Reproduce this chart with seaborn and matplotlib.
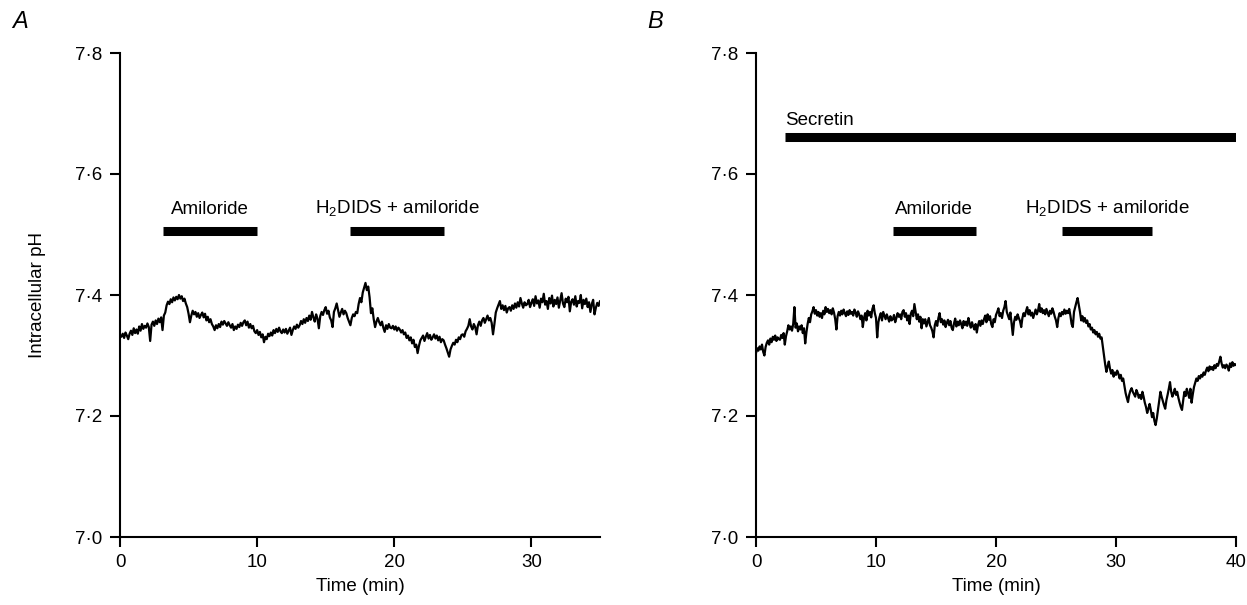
import numpy as np
import matplotlib
matplotlib.use("Agg")
import matplotlib.pyplot as plt
from matplotlib.ticker import FuncFormatter, FixedLocator
import seaborn as sns

# ---- data -------------------------------------------------------------
SAMPLE_INTERVAL_MIN = 0.1  # recording sampled every 6 s

# Panel A: intracellular pH, unstimulated duct
ph_a = [
    7.334, 7.331, 7.336, 7.329, 7.338, 7.333, 7.327, 7.336, 7.341, 7.334,
    7.345, 7.337, 7.343, 7.336, 7.348, 7.341, 7.352, 7.344, 7.349, 7.346,
    7.353, 7.347, 7.324, 7.351, 7.356, 7.349, 7.358, 7.352, 7.361, 7.355,
    7.363, 7.342, 7.366, 7.371, 7.383, 7.389, 7.385, 7.393, 7.388, 7.396,
    7.391, 7.397, 7.393, 7.400, 7.394, 7.398, 7.390, 7.394, 7.386, 7.380,
    7.369, 7.355, 7.366, 7.374, 7.368, 7.372, 7.364, 7.370, 7.362, 7.367,
    7.371, 7.363, 7.369, 7.358, 7.364, 7.355, 7.360, 7.352, 7.348, 7.342,
    7.350, 7.345, 7.352, 7.347, 7.356, 7.351, 7.357, 7.353, 7.349, 7.355,
    7.350, 7.346, 7.352, 7.342, 7.348, 7.344, 7.351, 7.347, 7.354, 7.349,
    7.355, 7.358, 7.350, 7.356, 7.346, 7.352, 7.345, 7.349, 7.340, 7.337,
    7.342, 7.334, 7.339, 7.330, 7.335, 7.322, 7.331, 7.327, 7.336, 7.332,
    7.338, 7.333, 7.342, 7.337, 7.344, 7.339, 7.346, 7.340, 7.337, 7.343,
    7.338, 7.344, 7.336, 7.341, 7.346, 7.334, 7.342, 7.348, 7.344, 7.351,
    7.346, 7.350, 7.357, 7.352, 7.360, 7.354, 7.362, 7.357, 7.366, 7.359,
    7.372, 7.363, 7.356, 7.368, 7.361, 7.345, 7.365, 7.372, 7.367, 7.375,
    7.380, 7.369, 7.374, 7.363, 7.358, 7.347, 7.372, 7.378, 7.386, 7.375,
    7.364, 7.371, 7.377, 7.368, 7.374, 7.370, 7.362, 7.356, 7.350, 7.362,
    7.368, 7.365, 7.372, 7.370, 7.385, 7.395, 7.388, 7.404, 7.412, 7.420,
    7.408, 7.414, 7.396, 7.370, 7.378, 7.360, 7.347, 7.356, 7.362, 7.355,
    7.350, 7.356, 7.346, 7.339, 7.350, 7.344, 7.352, 7.346, 7.345, 7.349,
    7.343, 7.348, 7.341, 7.346, 7.343, 7.338, 7.342, 7.335, 7.338, 7.329,
    7.333, 7.325, 7.330, 7.320, 7.326, 7.314, 7.318, 7.304, 7.316, 7.325,
    7.329, 7.333, 7.324, 7.331, 7.337, 7.328, 7.334, 7.326, 7.330, 7.335,
    7.328, 7.333, 7.325, 7.331, 7.322, 7.327, 7.325, 7.318, 7.312, 7.305,
    7.298, 7.310, 7.316, 7.321, 7.318, 7.326, 7.322, 7.330, 7.327, 7.334,
    7.335, 7.331, 7.340, 7.344, 7.349, 7.360, 7.348, 7.343, 7.352, 7.347,
    7.335, 7.350, 7.356, 7.349, 7.358, 7.362, 7.354, 7.360, 7.366, 7.358,
    7.362, 7.354, 7.335, 7.352, 7.371, 7.378, 7.384, 7.390, 7.377, 7.383,
    7.375, 7.382, 7.371, 7.378, 7.380, 7.374, 7.383, 7.377, 7.386, 7.379,
    7.388, 7.381, 7.395, 7.386, 7.379, 7.388, 7.383, 7.385, 7.392, 7.380,
    7.387, 7.393, 7.382, 7.398, 7.386, 7.391, 7.379, 7.394, 7.388, 7.402,
    7.384, 7.390, 7.377, 7.395, 7.386, 7.399, 7.381, 7.392, 7.385, 7.396,
    7.379, 7.391, 7.403, 7.386, 7.380, 7.394, 7.388, 7.397, 7.373, 7.389,
    7.393, 7.384, 7.398, 7.381, 7.390, 7.387, 7.400, 7.378, 7.392, 7.385,
    7.394, 7.380, 7.388, 7.372, 7.385, 7.392, 7.368, 7.379, 7.387, 7.382,
    7.390,
]

# Panel B: intracellular pH with secretin present
ph_b = [
    7.304, 7.312, 7.308, 7.315, 7.310, 7.318, 7.306, 7.300, 7.314, 7.321,
    7.325, 7.318, 7.328, 7.322, 7.331, 7.326, 7.333, 7.324, 7.330, 7.327,
    7.326, 7.334, 7.329, 7.337, 7.318, 7.332, 7.340, 7.350, 7.343, 7.348,
    7.341, 7.352, 7.380, 7.346, 7.353, 7.340, 7.348, 7.343, 7.350, 7.337,
    7.345, 7.320, 7.338, 7.352, 7.362, 7.355, 7.368, 7.373, 7.380, 7.369,
    7.375, 7.366, 7.372, 7.364, 7.370, 7.362, 7.374, 7.368, 7.380, 7.372,
    7.377, 7.370, 7.375, 7.368, 7.378, 7.371, 7.360, 7.343, 7.365, 7.372,
    7.366, 7.374, 7.368, 7.376, 7.370, 7.365, 7.373, 7.367, 7.375, 7.369,
    7.372, 7.366, 7.376, 7.371, 7.364, 7.373, 7.368, 7.360, 7.366, 7.347,
    7.362, 7.370, 7.358, 7.374, 7.366, 7.372, 7.363, 7.377, 7.383, 7.370,
    7.362, 7.330, 7.355, 7.364, 7.370, 7.358, 7.372, 7.366, 7.360, 7.368,
    7.362, 7.356, 7.365, 7.358, 7.360, 7.367, 7.355, 7.362, 7.370, 7.364,
    7.368, 7.360, 7.372, 7.375, 7.364, 7.370, 7.358, 7.366, 7.352, 7.369,
    7.374, 7.365, 7.385, 7.373, 7.360, 7.368, 7.356, 7.364, 7.345, 7.360,
    7.353, 7.360, 7.348, 7.355, 7.362, 7.350, 7.346, 7.340, 7.330, 7.350,
    7.357, 7.349, 7.362, 7.370, 7.355, 7.360, 7.351, 7.358, 7.347, 7.354,
    7.359, 7.350, 7.357, 7.346, 7.342, 7.353, 7.361, 7.348, 7.356, 7.350,
    7.358, 7.352, 7.345, 7.357, 7.350, 7.356, 7.349, 7.362, 7.353, 7.346,
    7.355, 7.348, 7.343, 7.352, 7.338, 7.350, 7.357, 7.349, 7.358, 7.352,
    7.360, 7.366, 7.355, 7.368, 7.359, 7.365, 7.352, 7.347, 7.360, 7.355,
    7.367, 7.372, 7.378, 7.365, 7.370, 7.362, 7.374, 7.380, 7.390, 7.372,
    7.366, 7.360, 7.371, 7.352, 7.334, 7.355, 7.364, 7.359, 7.368, 7.362,
    7.357, 7.347, 7.362, 7.370, 7.365, 7.373, 7.380, 7.368, 7.375, 7.366,
    7.371, 7.362, 7.369, 7.376, 7.368, 7.374, 7.385, 7.372, 7.378, 7.370,
    7.375, 7.368, 7.377, 7.371, 7.365, 7.374, 7.369, 7.378, 7.372, 7.364,
    7.358, 7.347, 7.362, 7.370, 7.365, 7.372, 7.368, 7.376, 7.369, 7.374,
    7.370, 7.377, 7.366, 7.352, 7.347, 7.372, 7.380, 7.388, 7.395, 7.384,
    7.372, 7.358, 7.365, 7.356, 7.362, 7.354, 7.358, 7.348, 7.352, 7.343,
    7.346, 7.338, 7.342, 7.335, 7.339, 7.331, 7.336, 7.328, 7.330, 7.315,
    7.300, 7.285, 7.273, 7.282, 7.290, 7.278, 7.270, 7.276, 7.265, 7.272,
    7.268, 7.275, 7.270, 7.262, 7.268, 7.258, 7.262, 7.250, 7.238, 7.230,
    7.223, 7.235, 7.242, 7.246, 7.240, 7.236, 7.232, 7.243, 7.238, 7.230,
    7.235, 7.228, 7.240, 7.232, 7.222, 7.215, 7.205, 7.212, 7.220, 7.210,
    7.198, 7.205, 7.192, 7.185, 7.196, 7.210, 7.225, 7.240, 7.232, 7.225,
    7.218, 7.212, 7.226, 7.235, 7.245, 7.256, 7.240, 7.232, 7.238, 7.245,
    7.235, 7.240, 7.230, 7.222, 7.215, 7.210, 7.226, 7.240, 7.233, 7.245,
    7.238, 7.230, 7.245, 7.222, 7.236, 7.248, 7.255, 7.262, 7.258, 7.266,
    7.262, 7.268, 7.265, 7.272, 7.268, 7.275, 7.280, 7.274, 7.282, 7.277,
    7.281, 7.276, 7.284, 7.279, 7.286, 7.283, 7.290, 7.298, 7.287, 7.280,
    7.284, 7.279, 7.285, 7.282, 7.275, 7.287, 7.281, 7.289, 7.283, 7.286,
    7.284,
]

# Drug application periods: (label, start min, end min, bar pH level)
bars_a = [
    ("Amiloride", 3.1, 10.0, 7.506),
    ("H$_2$DIDS + amiloride", 16.8, 23.6, 7.506),
]
bars_b = [
    ("Amiloride", 11.4, 18.3, 7.506),
    ("H$_2$DIDS + amiloride", 25.5, 33.0, 7.506),
]
secretin_bar = ("Secretin", 2.4, 40.0, 7.661)

x_ticks_a = [0, 10, 20, 30]
x_ticks_b = [0, 10, 20, 30, 40]
y_ticks = [7.0, 7.2, 7.4, 7.6, 7.8]

# ---- styling -----------------------------------------------------------
sns.set_theme(style="ticks")
plt.rcParams["font.family"] = ["Liberation Sans", "DejaVu Sans"]
plt.rcParams["mathtext.default"] = "regular"

FS = 13.5
fig = plt.figure(figsize=(12.47, 6.05), dpi=100)
ax_a = fig.add_axes([120 / 1247, 1 - 537 / 605, 480 / 1247, 484 / 605])
ax_b = fig.add_axes([756 / 1247, 1 - 537 / 605, 480 / 1247, 484 / 605])

ph_fmt = FuncFormatter(lambda v, _: f"{v:.1f}".replace(".", "\u00b7"))


def style_axes(ax, xmax, xticks):
    ax.set_xlim(0, xmax)
    ax.set_ylim(7.0, 7.8)
    ax.xaxis.set_major_locator(FixedLocator(xticks))
    ax.yaxis.set_major_locator(FixedLocator(y_ticks))
    ax.yaxis.set_major_formatter(ph_fmt)
    for side in ("top", "right"):
        ax.spines[side].set_visible(False)
    for side in ("left", "bottom"):
        ax.spines[side].set_linewidth(1.5)
        ax.spines[side].set_color("black")
    ax.tick_params(axis="both", direction="out", length=7, width=1.5,
                   color="black", labelsize=FS, labelcolor="black")
    ax.tick_params(axis="y", pad=6)
    ax.tick_params(axis="x", pad=5)
    ax.set_xlabel("Time (min)", fontsize=FS, color="black", labelpad=5)
    ax.set_ylabel("")
    ax.grid(False)
    ax.set_facecolor("white")


def draw_bars(ax, bars):
    for label, x0, x1, level in bars:
        ax.hlines(level, x0, x1, colors="black", linewidth=6.5,
                  capstyle="butt")
        ax.text((x0 + x1) / 2, level + 0.022, label, ha="center",
                va="bottom", fontsize=FS, color="black")


t_a = np.arange(len(ph_a)) * SAMPLE_INTERVAL_MIN
t_b = np.arange(len(ph_b)) * SAMPLE_INTERVAL_MIN

sns.lineplot(x=t_a, y=ph_a, ax=ax_a, color="black", linewidth=1.6)
sns.lineplot(x=t_b, y=ph_b, ax=ax_b, color="black", linewidth=1.6)

style_axes(ax_a, 35, x_ticks_a)
style_axes(ax_b, 40, x_ticks_b)

draw_bars(ax_a, bars_a)
draw_bars(ax_b, bars_b)

label, x0, x1, level = secretin_bar
ax_b.hlines(level, x0, x1, colors="black", linewidth=6.5, capstyle="butt")
ax_b.text(x0, level + 0.013, label, ha="left", va="bottom", fontsize=FS,
          color="black")

fig.text(37 / 1247, 1 - 295 / 605, "Intracellular pH", rotation=90,
         ha="center", va="center", fontsize=FS, color="black")
fig.text(20 / 1247, 1 - 22 / 605, "A", fontsize=17, style="italic",
         ha="center", va="center", color="black")
fig.text(655 / 1247, 1 - 22 / 605, "B", fontsize=17, style="italic",
         ha="center", va="center", color="black")

fig.savefig("out.png", dpi=100, facecolor="white")
